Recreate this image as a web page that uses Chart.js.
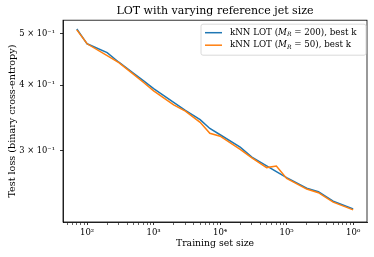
<!DOCTYPE html>
<html>
<head>
<meta charset="utf-8">
<script src="https://cdn.jsdelivr.net/npm/chart.js@4"></script>
<style>
  body { margin: 0; background: #fff; }
  canvas { display: block; }
</style>
</head>
<body>
<canvas id="lotChart" width="374" height="257"></canvas>
<script>
  // training set sizes (x) and test loss per reference size
  const trainSizes = [70, 100, 200, 300, 500, 700, 1000, 2000, 3000, 5000, 7000, 10000,
    20000, 30000, 50000, 70000, 100000, 200000, 300000, 500000, 700000, 1000000];
  const lossMR200 = [0.511, 0.479, 0.461, 0.442, 0.421, 0.408, 0.394, 0.371, 0.358, 0.344, 0.331, 0.322,
    0.305, 0.292, 0.281, 0.274, 0.267, 0.255, 0.251, 0.241, 0.237, 0.233];
  const lossMR50 = [0.509, 0.479, 0.455, 0.441, 0.419, 0.405, 0.390, 0.367, 0.357, 0.340, 0.324, 0.320,
    0.302, 0.291, 0.279, 0.281, 0.266, 0.254, 0.250, 0.240, 0.236, 0.232];
  const refSizes = [200, 50];

  // tick labels
  const xMajorTicks = [100, 1000, 10000, 100000, 1000000];
  const xMajorLabels = ['10²', '10³', '10⁴', '10⁵', '10⁶'];
  const yTicks = [0.3, 0.4, 0.5];
  const yTickLabels = ['3 × 10⁻¹', '4 × 10⁻¹', '5 × 10⁻¹'];

  const SERIF = "'DejaVu Serif', serif";

  function majorIndex(v) {
    return xMajorTicks.findIndex(m => Math.abs(m - v) / m < 1e-6);
  }

  // frame around the axes (all four spines)
  const framePlugin = {
    id: 'frame',
    afterDraw(chart) {
      const { ctx, chartArea: a } = chart;
      ctx.save();
      ctx.strokeStyle = '#000';
      ctx.lineWidth = 0.8;
      ctx.strokeRect(a.left, a.top, a.right - a.left, a.bottom - a.top);
      ctx.restore();
    }
  };

  // matplotlib-like legend with italic M and subscript R
  const legendPlugin = {
    id: 'mplLegend',
    afterDraw(chart) {
      const { ctx, chartArea: a } = chart;
      const w = 165, h = 31;
      const x0 = a.right - w - 1, y0 = a.top + 4;
      ctx.save();
      ctx.beginPath();
      ctx.roundRect(x0, y0, w, h, 2);
      ctx.fillStyle = 'rgba(255,255,255,0.8)';
      ctx.fill();
      ctx.strokeStyle = '#d0d0d0';
      ctx.lineWidth = 0.8;
      ctx.stroke();

      chart.data.datasets.slice().sort((p, q) => p.legendIndex - q.legendIndex).forEach((ds, i) => {
        const y = y0 + 8.5 + i * 12.5;
        ctx.beginPath();
        ctx.moveTo(x0 + 4, y);
        ctx.lineTo(x0 + 21, y);
        ctx.strokeStyle = ds.borderColor;
        ctx.lineWidth = 1.5;
        ctx.stroke();

        ctx.fillStyle = '#000';
        ctx.textBaseline = 'middle';
        let x = x0 + 29;
        const parts = [
          { t: 'kNN LOT (', font: '8.7px ' + SERIF, dy: 0 },
          { t: 'M', font: 'italic 8.7px ' + SERIF, dy: 0 },
          { t: 'R', font: 'italic 6px ' + SERIF, dy: 2 },
          { t: ' = ' + ds.refSize + '), best k', font: '8.7px ' + SERIF, dy: 0 }
        ];
        parts.forEach(p => {
          ctx.font = p.font;
          ctx.fillText(p.t, x, y + p.dy);
          x += ctx.measureText(p.t).width;
        });
      });
      ctx.restore();
    }
  };

  const series = [
    { values: lossMR50, color: '#ff7f0e', refSize: refSizes[1], order: 1, legendIndex: 1 },
    { values: lossMR200, color: '#1f77b4', refSize: refSizes[0], order: 2, legendIndex: 0 }
  ];

  new Chart(document.getElementById('lotChart'), {
    type: 'line',
    data: {
      datasets: series.map(s => ({
        label: 'kNN LOT (M_R = ' + s.refSize + '), best k',
        refSize: s.refSize,
        legendIndex: s.legendIndex,
        data: trainSizes.map((x, i) => ({ x: x, y: s.values[i] })),
        borderColor: s.color,
        backgroundColor: s.color,
        borderWidth: 1.5,
        pointRadius: 0,
        tension: 0,
        fill: false,
        order: s.order
      }))
    },
    options: {
      responsive: false,
      animation: false,
      devicePixelRatio: 1,
      layout: { padding: { left: 0, right: 7, top: 0, bottom: 0 } },
      plugins: {
        legend: { display: false },
        tooltip: { enabled: false },
        title: {
          display: true,
          fullSize: false,
          text: 'LOT with varying reference jet size',
          color: '#000',
          font: { family: SERIF, size: 11, weight: 'normal' },
          padding: { top: 5, bottom: 2 }
        }
      },
      scales: {
        x: {
          type: 'logarithmic',
          min: 43.4,
          max: 1.614e6,
          afterBuildTicks: (scale) => {
            const ticks = [];
            for (let k = 1; k <= 6; k++) {
              for (let m = 1; m <= 9; m++) {
                const v = m * Math.pow(10, k);
                if (v >= scale.min && v <= scale.max) ticks.push({ value: v });
              }
            }
            scale.ticks = ticks;
          },
          afterFit: (scale) => { scale.height = 35; },
          ticks: {
            autoSkip: false,
            maxRotation: 0,
            padding: 3,
            color: '#000',
            font: { family: SERIF, size: 8.5 },
            callback: (v) => {
              const i = majorIndex(v);
              return i >= 0 ? xMajorLabels[i] : '';
            }
          },
          grid: {
            drawOnChartArea: false,
            drawTicks: true,
            tickLength: 3,
            tickColor: '#000',
            tickWidth: (c) => (c.tick && majorIndex(c.tick.value) >= 0) ? 0.8 : 0.6
          },
          border: { display: true, color: '#000', width: 0.8 },
          title: {
            display: true,
            text: 'Training set size',
            color: '#000',
            font: { family: SERIF, size: 9.3 },
            padding: { top: 0, bottom: 7.5 }
          }
        },
        y: {
          type: 'logarithmic',
          min: 0.224,
          max: 0.531,
          afterBuildTicks: (scale) => {
            scale.ticks = yTicks.map(v => ({ value: v }));
          },
          afterFit: (scale) => { scale.width = 63; },
          ticks: {
            autoSkip: false,
            padding: 5,
            color: '#000',
            font: { family: SERIF, size: 8.3 },
            callback: (v) => {
              const i = yTicks.findIndex(t => Math.abs(t - v) < 1e-9);
              return i >= 0 ? yTickLabels[i] : '';
            }
          },
          grid: {
            drawOnChartArea: false,
            drawTicks: true,
            tickLength: 3,
            tickColor: '#000',
            tickWidth: 0.8
          },
          border: { display: true, color: '#000', width: 0.8 },
          title: {
            display: true,
            text: 'Test loss (binary cross-entropy)',
            color: '#000',
            font: { family: SERIF, size: 9.6 },
            padding: { top: 6.3, bottom: 0 }
          }
        }
      }
    },
    plugins: [framePlugin, legendPlugin]
  });
</script>
</body>
</html>
